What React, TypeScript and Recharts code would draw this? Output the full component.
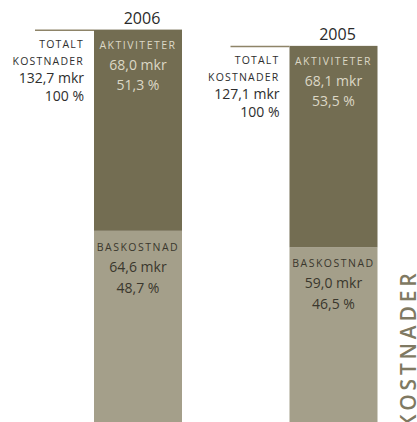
import { BarChart, Bar, XAxis, YAxis, Customized } from 'recharts'

const years = ['2006', '2005']
const aktiviteter = [68.0, 68.1]
const baskostnad = [64.6, 59.0]
const totalt = [132.7, 127.1]
const aktivitetPct = [51.3, 53.5]
const baskostnadPct = [48.7, 46.5]
const sideTitle = 'KOSTNADER'

const data = years.map((year, i) => ({
  year,
  akt: aktiviteter[i],
  bas: baskostnad[i],
  total: totalt[i],
  aktPct: aktivitetPct[i],
  basPct: baskostnadPct[i],
}))

const FONT = '"Open Sans", sans-serif'
const DARK = '#736d52'
const LIGHT = '#a49f8a'

const fmt = (v: number) => v.toFixed(1).replace('.', ',')

function AktShape(props: any) {
  const { x, y, width, height, payload } = props
  const cx = x + width / 2
  const lx = x - 10
  return (
    <g fontFamily={FONT}>
      <rect x={x} y={y} width={width} height={height} fill={DARK} />
      <line x1={x - 59} x2={x} y1={y + 0.75} y2={y + 0.75} stroke="#8e8468" strokeWidth={1.5} />
      <text x={cx + 4} y={y - 6} textAnchor="middle" fontSize={16} fill="#2a2a2a">
        {payload.year}
      </text>
      <g textAnchor="end" fill="#2e2e2e">
        <text x={lx} y={y + 18} fontSize={10.5} style={{ letterSpacing: 1.2 }}>TOTALT</text>
        <text x={lx} y={y + 35.5} fontSize={10.5} style={{ letterSpacing: 1.2 }}>KOSTNADER</text>
        <text x={lx} y={y + 53} fontSize={14}>{fmt(payload.total)} mkr</text>
        <text x={lx} y={y + 71} fontSize={14}>100 %</text>
      </g>
      <g textAnchor="middle" fill="#dcd8c6">
        <text x={cx} y={y + 19} fontSize={10.5} style={{ letterSpacing: 1.5 }}>AKTIVITETER</text>
        <text x={cx} y={y + 40} fontSize={14}>{fmt(payload.akt)} mkr</text>
        <text x={cx} y={y + 60} fontSize={14}>{fmt(payload.aktPct)} %</text>
      </g>
    </g>
  )
}

function BasShape(props: any) {
  const { x, y, width, height, payload } = props
  const cx = x + width / 2
  return (
    <g fontFamily={FONT}>
      <rect x={x} y={y} width={width} height={height} fill={LIGHT} />
      <g textAnchor="middle" fill="#3a372d">
        <text x={cx} y={y + 20} fontSize={10.5} style={{ letterSpacing: 1.5 }}>BASKOSTNAD</text>
        <text x={cx} y={y + 41} fontSize={14}>{fmt(payload.bas)} mkr</text>
        <text x={cx} y={y + 62} fontSize={14}>{fmt(payload.basPct)} %</text>
      </g>
    </g>
  )
}

function SideTitle() {
  return (
    <text
      x={416}
      y={428}
      transform="rotate(-90 416 428)"
      fontFamily={FONT}
      fontSize={21}
      fontWeight={600}
      fill="#7f7962"
      style={{ letterSpacing: 3.8 }}
    >
      {sideTitle}
    </text>
  )
}

export default function App() {
  return (
    <div style={{ position: 'absolute', left: 0, top: 0, width: 417, height: 422, background: '#fff' }}>
      <BarChart
        width={417}
        height={422}
        data={data}
        margin={{ top: 0, right: 0, bottom: 0, left: 40 }}
        barSize={88}
      >
        <XAxis dataKey="year" hide padding={{ left: 0, right: -14 }} />
        <YAxis hide domain={[0, 142.6]} />
        <Bar dataKey="bas" stackId="a" fill={LIGHT} shape={BasShape} isAnimationActive={false} />
        <Bar dataKey="akt" stackId="a" fill={DARK} shape={AktShape} isAnimationActive={false} />
        <Customized component={SideTitle} />
      </BarChart>
    </div>
  )
}
